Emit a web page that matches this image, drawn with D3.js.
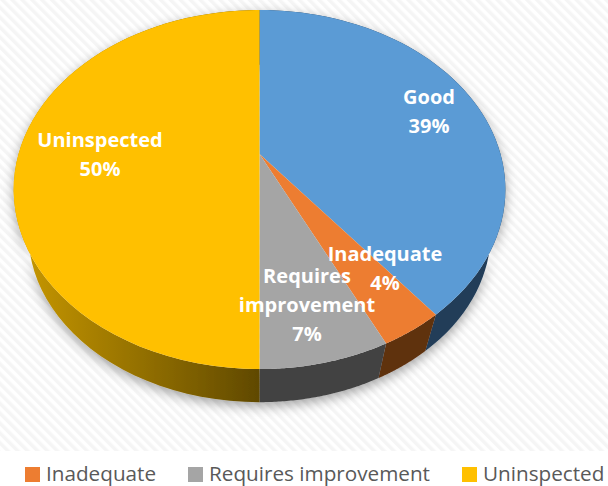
<!DOCTYPE html>
<html><head><meta charset="utf-8">
<script src="https://cdn.jsdelivr.net/npm/d3@7"></script>
<style>html,body{margin:0;padding:0;background:#fff}svg{display:block}text{font-family:"Open Sans",sans-serif}</style>
</head><body><div id="c"></div>
<script>
const categories=["Good","Inadequate","Requires improvement","Uninspected"];
const values=[39.4,3.5,7.1,50];
const topColors=["#5b9bd5","#ed7d31","#a5a5a5","#ffc000"];
const wallColors=["#203c58","#5f3010","#424242","url(#wallY)"];
const labelLines=[["Good","39%"],["Inadequate","4%"],["Requires","improvement","7%"],["Uninspected","50%"]];
const labelAnchors=[[429,97],[385,254],[307,276],[100,140]];
const legendItems=["Inadequate","Requires improvement","Uninspected"];
const legendSwatchX=[25,188,462];

const W=608,H=486;
const svg=d3.select("#c").append("svg").attr("width",W).attr("height",H);
const defs=svg.append("defs");
const pat=defs.append("pattern").attr("id","stripes").attr("width",7).attr("height",7)
  .attr("patternUnits","userSpaceOnUse").attr("patternTransform","rotate(-45)");
pat.append("rect").attr("width",7).attr("height",7).attr("fill","#ffffff");
pat.append("rect").attr("width",3.5).attr("height",7).attr("fill","#f5f5f5");
const g=defs.append("linearGradient").attr("id","wallY").attr("gradientUnits","userSpaceOnUse")
  .attr("x1",28).attr("x2",259).attr("y1",0).attr("y2",0);
g.append("stop").attr("offset",0).attr("stop-color","#c49500");
g.append("stop").attr("offset",1).attr("stop-color","#604900");
const f=defs.append("filter").attr("id","sh").attr("x","-10%").attr("y","-10%").attr("width","120%").attr("height","125%");
f.append("feDropShadow").attr("dx",0).attr("dy",4).attr("stdDeviation",6).attr("flood-color","#000").attr("flood-opacity",.36);

svg.append("rect").attr("width",W).attr("height",H).attr("fill","url(#stripes)");
svg.append("rect").attr("y",451).attr("width",W).attr("height",35).attr("fill","#fff");

// perspective disc: angle -> screen point
const cx=259.5,apexY=154,A=241,B=172.5,p=0.198,shrink=0.94,drop=46;
function proj(t,s,d){const u=Math.sin(t),v=Math.cos(t),w=1+p*v;return [cx+s*A*u/w,apexY+d-s*B*v/w];}
const pie=d3.pie().sort(null)(values);
const line=d3.line();
const samples=(a,b)=>d3.range(0,61).map(i=>a+(b-a)*i/60);

const walls=svg.append("g").attr("filter","url(#sh)");
walls.selectAll("path").data(pie).join("path")
  .attr("fill",(d,i)=>wallColors[i])
  .attr("d",d=>{const ts=samples(d.startAngle,d.endAngle);
    return line(ts.map(t=>proj(t,1,0)).concat(ts.slice().reverse().map(t=>proj(t,shrink,drop))))+"Z";});
svg.append("g").selectAll("path").data(pie).join("path")
  .attr("fill",(d,i)=>topColors[i])
  .attr("d",d=>line([[cx,apexY]].concat(samples(d.startAngle,d.endAngle).map(t=>proj(t,1,0))))+"Z");

const lab=svg.append("g").attr("fill","#fff").attr("font-size",20).attr("font-weight",700).attr("text-anchor","middle");
labelLines.forEach((ls,i)=>{ls.forEach((s,j)=>{lab.append("text").attr("x",labelAnchors[i][0]).attr("y",labelAnchors[i][1]+j*29+7).text(s);});});

const leg=svg.append("g");
legendItems.forEach((s,i)=>{
  const c=topColors[categories.indexOf(s)];
  leg.append("rect").attr("x",legendSwatchX[i]).attr("y",467).attr("width",15).attr("height",15).attr("fill",c);
  leg.append("text").attr("x",legendSwatchX[i]+21).attr("y",481).attr("font-size",20.7).attr("fill","#595959").text(s);
});
</script></body></html>
